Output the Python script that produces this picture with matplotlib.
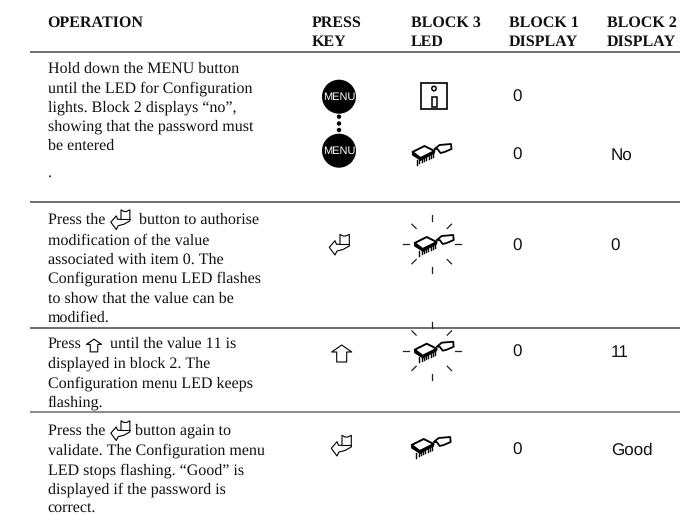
import matplotlib
matplotlib.use("Agg")
import matplotlib.pyplot as plt
from matplotlib.patches import Circle, Polygon, Rectangle
import numpy as np

plt.rcParams["text.hinting"] = "no_hinting"
plt.rcParams["text.hinting_factor"] = 1

SERIF = "Liberation Serif"
SANS = "Liberation Sans"

headers = [("OPERATION", 47.7), ("PRESS\nKEY", 311.7), ("BLOCK 3\nLED", 410.7),
           ("BLOCK 1\nDISPLAY", 509), ("BLOCK 2\nDISPLAY", 607)]
rules = [(51.5, "#555555"), (201.7, "#555555"), (327.7, "#555555"), (412, "#777777")]

op_lines = [
    (47.7, 72.7, "Hold down the MENU button"),
    (47.7, 92.3, "until the LED for Configuration"),
    (47.7, 111.7, "lights. Block 2 displays \u201cno\u201d,"),
    (47.7, 130.7, "showing that the password must"),
    (47.7, 150, "be entered"),
    (47.7, 176.7, "."),
    (47.7, 224, "Press the"),
    (139, 224, "button to authorise"),
    (47.7, 245, "modification of the value"),
    (47.7, 263.5, "associated with item 0. The"),
    (47.7, 283, "Configuration menu LED flashes"),
    (47.7, 302.7, "to show that the value can be"),
    (47.7, 321.7, "modified."),
    (47.7, 348.3, "Press"),
    (110, 348.3, "until the value 11 is"),
    (47.7, 367.7, "displayed in block 2. The"),
    (47.7, 387.3, "Configuration menu LED keeps"),
    (47.7, 406.7, "flashing."),
    (47.7, 435, "Press the"),
    (135, 435, "button again to"),
    (47.7, 455, "validate. The Configuration menu"),
    (47.7, 474.3, "LED stops flashing. \u201cGood\u201d is"),
    (47.7, 493.3, "displayed if the password is"),
    (47.7, 511.8, "correct."),
]
display_values = [
    (512.7, 101.7, "0"), (512.7, 160, "0"), (610.7, 160, "No"),
    (512.7, 251, "0"), (610.7, 251, "0"),
    (512.7, 356.7, "0"), (610.7, 356.7, "11"),
    (512.7, 455, "0"), (610.7, 455, "Good"),
]
menu_keys = [(339, 96.7), (339, 150.7)]
menu_dots = [(339, 116.7), (339, 123.5), (339, 130)]
chips = [(429.5, 153, False), (431.7, 244, True), (431.7, 350.7, True), (428.7, 446, False)]
enters = [(340, 245, 1.0), (342, 446, 1.0), (121, 220, 0.95), (121, 431, 0.95)]
ups = [(341.7, 353.5, 1.0), (94, 345.5, 0.75)]

fig = plt.figure(figsize=(6.8, 5.14), dpi=100)
ax = fig.add_axes([0, 0, 1, 1])
ax.set_xlim(0, 680)
ax.set_ylim(514, 0)
ax.axis("off")

for text, x in headers:
    for i, p in enumerate(text.split("\n")):
        ax.text(x, 26.7 + 19 * i, p, family=SERIF, weight="bold", fontsize=11.5,
                color="#111111", va="baseline", ha="left")

for y, c in rules:
    ax.plot([30, 680], [y, y], color=c, lw=1.2, solid_capstyle="butt")

for x, y, s in op_lines:
    ax.text(x, y, s, family=SERIF, fontsize=11.5, color="#111111", va="baseline", ha="left")

for x, y, s in display_values:
    ax.text(x, y, s, family=SANS, fontsize=12, color="#111111", va="baseline", ha="left")


def pl(pts, cx, cy, s=1.0, lw=0.9, fc="none", close=True):
    pts = np.array(pts, float) * s + [cx, cy]
    ax.add_patch(Polygon(pts, closed=close, fc=fc, ec="black", lw=lw, joinstyle="round"))


def enter_icon(cx, cy, s):
    pl([[-10.7, 2.3], [-5, -4.3], [-3.5, -0.7], [0, -0.7], [0, -10.7], [3, -9], [6, -9],
        [9.3, -10.7], [9.3, 1], [3, 4.5], [-3, 6], [-5, 10]], cx, cy, s, lw=0.8)
    ax.plot([cx, cx + 9.3 * s], [cy - 0.7 * s, cy - 0.7 * s], color="k", lw=0.8)


def up_icon(cx, cy, s):
    pl([[0, -8.5], [10, -1.5], [5, -1.5], [5, 8.5], [-5, 8.5], [-5, -1.5], [-10, -1.5]],
       cx, cy, s, lw=0.8)


def chip_icon(cx, cy, flash):
    for k in range(8):
        x0 = cx - 12.5 + k * 2.3
        y0 = cy + 6.5 - k * 1.05
        ax.plot([x0, x0], [y0, y0 + 5], color="k", lw=1.0)
    pl([[-17, -1], [-9, 5], [-9, 7], [-17, 2]], cx, cy, fc="black", lw=0.8)
    pl([[-9, 5], [5, -2], [5, 0], [-9, 7.5]], cx, cy, fc="black", lw=0.6)
    pl([[-17, -1], [-5, -7], [5, -2], [-9, 5]], cx, cy, fc="white", lw=1.4)
    pl([[5, -4], [10, -8], [21.5, -9], [22, -4], [15, -1], [11, 0], [8, -4]], cx, cy, lw=1.3)
    if flash:
        for a in range(8):
            th = np.pi / 4 * a
            r0, r1 = (22, 28) if a % 2 else (23, 29)
            ax.plot([cx + r0 * np.cos(th), cx + r1 * np.cos(th)],
                    [cy + r0 * np.sin(th), cy + r1 * np.sin(th)], color="#222222", lw=0.9)


for x, y in menu_keys:
    ax.add_patch(Circle((x, y), 17, fc="black", ec="none"))
    ax.text(x, y + 0.3, "MENU", family=SANS, fontsize=8.0, color="white", ha="center", va="center")
for x, y in menu_dots:
    ax.add_patch(Circle((x, y), 2.2, fc="black", ec="none"))

# information LED symbol
ax.add_patch(Rectangle((420.7, 83), 26.3, 26, fc="none", ec="black", lw=1.2))
ax.add_patch(Circle((434, 88.5), 2.2, fc="none", ec="black", lw=1.1))
ax.add_patch(Rectangle((431.7, 96.7), 4.8, 10, fc="none", ec="black", lw=1.1))

for x, y, f in chips:
    chip_icon(x, y, f)
for x, y, s in enters:
    enter_icon(x, y, s)
for x, y, s in ups:
    up_icon(x, y, s)

fig.savefig("out.png", dpi=100, facecolor="white")
